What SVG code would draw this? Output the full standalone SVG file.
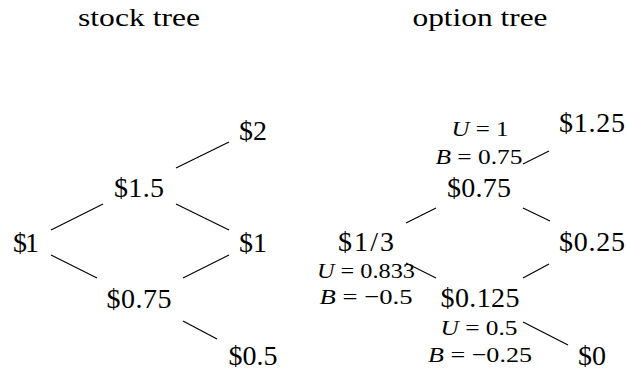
<svg xmlns="http://www.w3.org/2000/svg" width="626" height="372" viewBox="0 0 626 372">
<style>
text{font-family:"Liberation Serif","DejaVu Serif",serif;fill:#000;text-anchor:middle}
.v{font-size:28px}
.t{font-size:26px}
.a{font-size:22px}
.i{font-style:italic}
#connectors line{stroke:#000;stroke-width:1.2}
</style>
<rect width="626" height="372" fill="#fff"/>
<text class="t" x="139" y="26" textLength="122" lengthAdjust="spacingAndGlyphs">stock tree</text>
<text class="t" x="480" y="26" textLength="135" lengthAdjust="spacingAndGlyphs">option tree</text>
<g id="connectors">
<line x1="176" y1="168" x2="229" y2="142"/>
<line x1="51" y1="230" x2="103" y2="204"/>
<line x1="51" y1="255" x2="97" y2="278"/>
<line x1="176" y1="204" x2="229" y2="230"/>
<line x1="183" y1="278" x2="229" y2="255"/>
<line x1="183" y1="321" x2="217" y2="339"/>
<line x1="523" y1="164" x2="549" y2="151"/>
<line x1="436" y1="208" x2="406" y2="223"/>
<line x1="523" y1="208" x2="550" y2="221"/>
<line x1="406" y1="263" x2="436" y2="278"/>
<line x1="549" y1="264" x2="523" y2="278"/>
<line x1="523" y1="322" x2="568" y2="345"/>
</g>
<g id="s-root"><text class="v" x="26" y="252" textLength="26">$1</text></g>
<g id="s-u"><text class="v" x="139" y="197" textLength="50">$1.5</text></g>
<g id="s-d"><text class="v" x="139" y="308" textLength="65">$0.75</text></g>
<g id="s-uu"><text class="v" x="253" y="140" textLength="28">$2</text></g>
<g id="s-ud"><text class="v" x="253" y="252" textLength="28">$1</text></g>
<g id="s-dd"><text class="v" x="253" y="365" textLength="49">$0.5</text></g>
<g id="o-root">
<text class="v" x="366" y="251" textLength="56">$1/3</text>
<text class="a" x="366" y="278" textLength="98" lengthAdjust="spacingAndGlyphs"><tspan class="i">U</tspan> = 0.833</text>
<text class="a" x="366" y="304" textLength="93" lengthAdjust="spacingAndGlyphs"><tspan class="i">B</tspan> = −0.5</text>
</g>
<g id="o-u">
<text class="a" x="480" y="136" textLength="57" lengthAdjust="spacingAndGlyphs"><tspan class="i">U</tspan> = 1</text>
<text class="a" x="479" y="164" textLength="87" lengthAdjust="spacingAndGlyphs"><tspan class="i">B</tspan> = 0.75</text>
<text class="v" x="479" y="197" textLength="64">$0.75</text>
</g>
<g id="o-d">
<text class="v" x="480" y="307" textLength="79">$0.125</text>
<text class="a" x="479" y="335" textLength="77" lengthAdjust="spacingAndGlyphs"><tspan class="i">U</tspan> = 0.5</text>
<text class="a" x="480" y="362" textLength="104" lengthAdjust="spacingAndGlyphs"><tspan class="i">B</tspan> = −0.25</text>
</g>
<g id="o-uu"><text class="v" x="592" y="132" textLength="66">$1.25</text></g>
<g id="o-ud"><text class="v" x="592" y="251" textLength="66">$0.25</text></g>
<g id="o-dd"><text class="v" x="592" y="365" textLength="28">$0</text></g>
</svg>
